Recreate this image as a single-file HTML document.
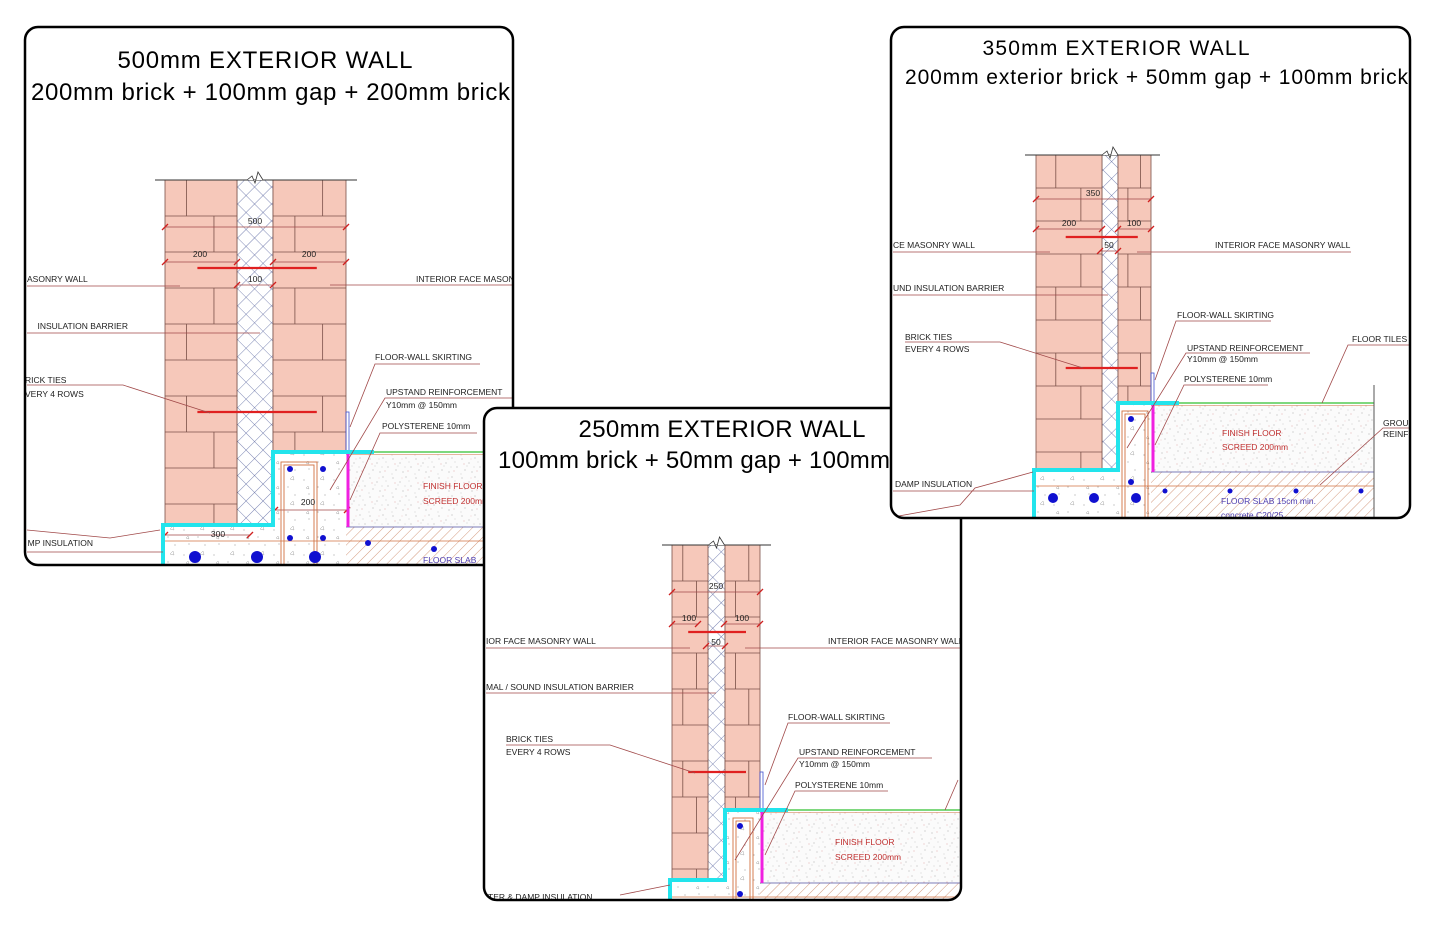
<!DOCTYPE html>
<html><head><meta charset="utf-8">
<style>
html,body{margin:0;padding:0;background:#fff;}
svg{display:block;font-family:"Liberation Sans",sans-serif;}
.l{font-size:8.5px;fill:#222;}
.ld{stroke:#a04848;stroke-width:0.8;fill:none;}
.t{fill:#000;}
</style></head><body>
<svg id="s" xmlns="http://www.w3.org/2000/svg" width="1445" height="934" viewBox="0 0 1445 934">
<defs>
<pattern id="xh" width="12" height="12" patternUnits="userSpaceOnUse" patternTransform="rotate(45)">
<rect width="12" height="12" fill="#fff"/>
<path d="M0 0H12M0 0V12" stroke="#5a66a0" stroke-width="0.8"/>
</pattern>
<pattern id="hat" width="7" height="7" patternUnits="userSpaceOnUse" patternTransform="rotate(45)">
<rect width="7" height="7" fill="#fff"/>
<path d="M0 0V7" stroke="#d09070" stroke-width="0.9"/>
</pattern>
<pattern id="spk" width="23" height="19" patternUnits="userSpaceOnUse">
<rect width="23" height="19" fill="#fbfbfb"/>
<g fill="#999"><circle cx="2" cy="3" r="0.5"/><circle cx="9" cy="7" r="0.5"/><circle cx="15" cy="2" r="0.5"/><circle cx="20" cy="11" r="0.5"/><circle cx="5" cy="14" r="0.5"/><circle cx="12" cy="16" r="0.5"/><circle cx="18" cy="6" r="0.4"/><circle cx="7" cy="10" r="0.4"/><circle cx="14" cy="11" r="0.4"/><circle cx="1" cy="18" r="0.4"/></g>
<g fill="#d99"><circle cx="4" cy="8" r="0.5"/><circle cx="17" cy="15" r="0.5"/><circle cx="11" cy="3" r="0.4"/></g>
</pattern>
<pattern id="con" width="30" height="25" patternUnits="userSpaceOnUse">
<rect width="30" height="25" fill="#fff"/>
<g fill="#aaa"><circle cx="4" cy="5" r="0.6"/><circle cx="18" cy="12" r="0.6"/><circle cx="25" cy="20" r="0.6"/><circle cx="9" cy="19" r="0.6"/></g>
<path d="M20 4l3 -3l1 4z M6 13l2 -2l1 3z" fill="none" stroke="#aaa" stroke-width="0.5"/>
</pattern>
<clipPath id="cA"><rect x="26" y="28" width="486" height="536" rx="12"/></clipPath>
<clipPath id="cB"><rect x="485" y="409" width="475" height="490" rx="12"/></clipPath>
<clipPath id="cC"><rect x="892" y="28" width="517" height="489" rx="12"/></clipPath>
</defs>

<!-- PANEL A -->
<g>
<rect x="25" y="27" width="488" height="538" rx="13" fill="#fff"/>
<g clip-path="url(#cA)">
<g id="dA"></g>
<text x="27" y="282" class="l" text-anchor="start">ASONRY WALL</text>
<path class="ld" d="M27 286H180"/>
<text x="416" y="282" class="l">INTERIOR FACE MASONRY WALL</text>
<path class="ld" d="M330 285H513"/>
<text x="128" y="329" class="l" text-anchor="end">INSULATION BARRIER</text>
<path class="ld" d="M27 333H260"/>
<text x="25" y="383" class="l">RICK TIES</text>
<text x="25" y="397" class="l">VERY 4 ROWS</text>
<path class="ld" d="M27 385H123L210 413"/>
<text x="375" y="360" class="l">FLOOR-WALL SKIRTING</text>
<path class="ld" d="M480 364H375L350 427"/>
<text x="386" y="395" class="l">UPSTAND REINFORCEMENT</text>
<text x="386" y="408" class="l">Y10mm @ 150mm</text>
<path class="ld" d="M513 398H385L330 490"/>
<text x="382" y="429" class="l">POLYSTERENE 10mm</text>
<path class="ld" d="M477 433H380L350 500"/>
<text x="423" y="489" class="l" style="fill:#c03030">FINISH FLOOR</text>
<text x="423" y="504" class="l" style="fill:#c03030">SCREED 200mm</text>
<text x="423" y="563" class="l" style="fill:#5040b0">FLOOR SLAB</text>
<text x="93" y="546" class="l" text-anchor="end">MP INSULATION</text>
<path class="ld" d="M27 530L110 538L160 530M27 552H163"/>
<text x="255" y="224" class="l" text-anchor="middle">500</text>
<text x="200" y="257" class="l" text-anchor="middle">200</text>
<text x="309" y="257" class="l" text-anchor="middle">200</text>
<text x="255" y="282" class="l" text-anchor="middle">100</text>
<text x="218" y="537" class="l" text-anchor="middle">300</text>
<text x="308" y="505" class="l" text-anchor="middle">200</text>
</g>
<text x="265" y="68" class="t" font-size="24" text-anchor="middle" textLength="295">500mm EXTERIOR WALL</text>
<text x="31" y="100" class="t" font-size="24" textLength="479">200mm brick + 100mm gap + 200mm brick</text>
<rect x="25" y="27" width="488" height="538" rx="13" fill="none" stroke="#000" stroke-width="2.5"/>
</g>

<!-- PANEL B -->
<g>
<rect x="484" y="408" width="477" height="492" rx="13" fill="#fff"/>
<g clip-path="url(#cB)">
<g id="dB"></g>
<text x="486" y="644" class="l">IOR FACE MASONRY WALL</text>
<path class="ld" d="M486 648H690"/>
<text x="828" y="644" class="l">INTERIOR FACE MASONRY WALL</text>
<path class="ld" d="M745 648H961"/>
<text x="486" y="690" class="l">MAL / SOUND INSULATION BARRIER</text>
<path class="ld" d="M486 693H716"/>
<text x="506" y="742" class="l">BRICK TIES</text>
<text x="506" y="755" class="l">EVERY 4 ROWS</text>
<path class="ld" d="M506 745H610L695 773"/>
<text x="788" y="720" class="l">FLOOR-WALL SKIRTING</text>
<path class="ld" d="M890 723H788L765 785"/>
<text x="799" y="755" class="l">UPSTAND REINFORCEMENT</text>
<text x="799" y="767" class="l">Y10mm @ 150mm</text>
<path class="ld" d="M932 758H798L735 860"/>
<text x="795" y="788" class="l">POLYSTERENE 10mm</text>
<path class="ld" d="M888 791H795L765 855"/>
<path class="ld" d="M958 780L945 810"/>
<text x="835" y="845" class="l" style="fill:#c03030">FINISH FLOOR</text>
<text x="835" y="860" class="l" style="fill:#c03030">SCREED 200mm</text>
<text x="488" y="900" class="l">TER &amp; DAMP INSULATION</text>
<path class="ld" d="M620 895L670 885"/>
<text x="716" y="589" class="l" text-anchor="middle">250</text>
<text x="689" y="621" class="l" text-anchor="middle">100</text>
<text x="742" y="621" class="l" text-anchor="middle">100</text>
<text x="716" y="645" class="l" text-anchor="middle">50</text>
</g>
<text x="722" y="437" class="t" font-size="24" text-anchor="middle" textLength="287">250mm EXTERIOR WALL</text>
<text x="498" y="468" class="t" font-size="24" textLength="392">100mm brick + 50mm gap + 100mm</text>
<rect x="484" y="408" width="477" height="492" rx="13" fill="none" stroke="#000" stroke-width="2.5"/>
</g>

<!-- PANEL C -->
<g>
<rect x="891" y="27" width="519" height="491" rx="13" fill="#fff"/>
<g clip-path="url(#cC)">
<g id="dC"></g>
<text x="893" y="248" class="l">CE MASONRY WALL</text>
<path class="ld" d="M893 252H1050"/>
<text x="1215" y="248" class="l">INTERIOR FACE MASONRY WALL</text>
<path class="ld" d="M1137 252H1351"/>
<text x="893" y="291" class="l">UND INSULATION BARRIER</text>
<path class="ld" d="M893 295H1108"/>
<text x="905" y="340" class="l">BRICK TIES</text>
<text x="905" y="352" class="l">EVERY 4 ROWS</text>
<path class="ld" d="M905 342H1000L1083 368"/>
<text x="1177" y="318" class="l">FLOOR-WALL SKIRTING</text>
<path class="ld" d="M1271 321H1176L1155 380"/>
<text x="1187" y="351" class="l">UPSTAND REINFORCEMENT</text>
<text x="1187" y="362" class="l">Y10mm @ 150mm</text>
<path class="ld" d="M1310 353H1186L1127 448"/>
<text x="1184" y="382" class="l">POLYSTERENE 10mm</text>
<path class="ld" d="M1268 385H1184L1155 445"/>
<text x="1352" y="342" class="l">FLOOR TILES</text>
<path class="ld" d="M1410 345H1348L1322 403"/>
<text x="1383" y="426" class="l">GROUND</text>
<text x="1383" y="437" class="l">REINF</text>
<path class="ld" d="M1410 428H1383L1320 485"/>
<text x="1222" y="436" class="l" style="fill:#c03030">FINISH FLOOR</text>
<text x="1222" y="450" class="l" style="fill:#c03030">SCREED 200mm</text>
<text x="1221" y="504" class="l" style="fill:#5040b0">FLOOR SLAB 15cm min.</text>
<text x="1221" y="518" class="l" style="fill:#5040b0">concrete C20/25</text>
<text x="895" y="487" class="l">DAMP INSULATION</text>
<path class="ld" d="M893 517L960 505L975 488L1033 472M893 491H1034"/>
<text x="1093" y="196" class="l" text-anchor="middle">350</text>
<text x="1069" y="226" class="l" text-anchor="middle">200</text>
<text x="1134" y="226" class="l" text-anchor="middle">100</text>
<text x="1109" y="248" class="l" text-anchor="middle">50</text>
</g>
<text x="1116" y="55" class="t" font-size="21" text-anchor="middle" textLength="267">350mm EXTERIOR WALL</text>
<text x="905" y="84" class="t" font-size="21" textLength="503">200mm exterior brick + 50mm gap + 100mm brick</text>
<rect x="891" y="27" width="519" height="491" rx="13" fill="none" stroke="#000" stroke-width="2.5"/>
</g>
</svg>
<script>
var NS="http://www.w3.org/2000/svg";
function el(g,t,a){var e=document.createElementNS(NS,t);for(var k in a)e.setAttribute(k,a[k]);g.appendChild(e);return e;}
function panel(id,p){
 var g=document.getElementById(id);
 var o0=p.o[0],o1=p.o[1],c0=p.c[0],c1=p.c[1],i0=p.i[0],i1=p.i[1];
 // concrete footing
 el(g,'rect',{x:o0-2,y:p.ob,width:(p.fr-o0),height:p.bot-p.ob+10,fill:'url(#con)'});
 el(g,'rect',{x:c1,y:p.ib,width:i1-c1+2,height:p.ob-p.ib,fill:'url(#con)'});
 // screed
 el(g,'rect',{x:i1+2,y:p.ib+2,width:p.fr-i1-2,height:p.st-p.ib-2,fill:'url(#spk)'});
 // slab hatch
 el(g,'rect',{x:i1,y:p.st,width:p.fr-i1,height:p.bot-p.st+10,fill:'url(#hat)'});
 el(g,'line',{x1:i1,y1:p.st,x2:p.fr,y2:p.st,stroke:'#5050a0','stroke-width':0.8});
 el(g,'line',{x1:o0,y1:p.st+14,x2:p.fr,y2:p.st+14,stroke:'#d07040','stroke-width':0.8});
 // cavity
 el(g,'rect',{x:c0,y:p.top,width:c1-c0,height:p.ob-p.top,fill:'url(#xh)',stroke:'#556','stroke-width':0.6});
 // leaves
 [[o0,o1,p.ob],[i0,i1,p.ib]].forEach(function(L,li){
  el(g,'rect',{x:L[0],y:p.top,width:L[1]-L[0],height:L[2]-p.top,fill:'#f6c8ba',stroke:'#7a5048','stroke-width':0.8});
  var w=L[1]-L[0],r=0;
  for(var y=p.top;y<L[2];y+=p.rh,r++){
   if(y>p.top) el(g,'line',{x1:L[0],y1:y,x2:L[1],y2:y,stroke:'#7a5048','stroke-width':0.8});
   var jx=(r+li)%2? L[0]+w*0.68 : L[0]+w*0.3;
   if(r%3!=2) el(g,'line',{x1:jx,y1:y,x2:jx,y2:Math.min(y+p.rh,L[2]),stroke:'#7a5048','stroke-width':0.8});
  }
 });
 // top line and break
 el(g,'line',{x1:p.tl[0],y1:p.top,x2:p.tl[1],y2:p.top,stroke:'#333','stroke-width':1});
 var cx=(c0+c1)/2;
 el(g,'path',{d:'M'+(cx-8)+' '+p.top+'L'+(cx-3)+' '+(p.top-4)+'L'+cx+' '+(p.top+3)+'L'+(cx+3)+' '+(p.top-8)+'L'+(cx+8)+' '+p.top,fill:'#fff',stroke:'#333','stroke-width':0.8});
 // ties
 p.ties.forEach(function(y){el(g,'line',{x1:o0+(o1-o0)*0.45,y1:y,x2:i1-(i1-i0)*0.4,y2:y,stroke:'#e02020','stroke-width':2.2});});
 // dim lines
 p.dims.forEach(function(d){el(g,'line',{x1:d[0],y1:d[2],x2:d[1],y2:d[2],stroke:'#a04848','stroke-width':0.7});
  [d[0],d[1]].forEach(function(x){el(g,'line',{x1:x-3,y1:d[2]+3,x2:x+3,y2:d[2]-3,stroke:'#d02020','stroke-width':1.3});});});
 // rebar in upstand
 el(g,'rect',{x:c1+p.rb[0],y:p.ib+p.rb[1],width:p.rb[2],height:p.bot-p.ib,fill:'none',stroke:'#d07040','stroke-width':0.9});
 el(g,'rect',{x:c1+p.rb[0]+3,y:p.ib+p.rb[1]+3,width:p.rb[2]-6,height:p.bot-p.ib,fill:'none',stroke:'#d07040','stroke-width':0.9});
 p.dots.forEach(function(d){el(g,'circle',{cx:d[0],cy:d[1],r:d[2],fill:'#1010d0'});});
 // tiles line
 el(g,'line',{x1:i1,y1:p.ib,x2:p.fr,y2:p.ib,stroke:'#30c030','stroke-width':1.2});
 el(g,'line',{x1:i1,y1:p.ib+2.5,x2:p.fr,y2:p.ib+2.5,stroke:'#d07040','stroke-width':0.6});
 // skirting
 el(g,'rect',{x:i1,y:p.ib-p.sk,width:3,height:p.sk,fill:'none',stroke:'#4050d0','stroke-width':0.8});
 // cyan
 el(g,'path',{d:'M'+(o0-2)+' '+(p.bot+10)+'V'+p.ob+'H'+c1+'V'+p.ib+'H'+(i1+28),fill:'none',stroke:'#22e4ec','stroke-width':4});
 // magenta
 el(g,'line',{x1:i1+2,y1:p.ib+2,x2:i1+2,y2:p.st,stroke:'#f020e0','stroke-width':3});
 if(p.vr) el(g,'line',{x1:p.fr,y1:p.vr,x2:p.fr,y2:p.bot,stroke:'#555','stroke-width':1});
}
panel('dA',{o:[165,237],c:[237,273],i:[273,346],top:180,tl:[155,357],ob:525,ib:452,rh:36,fr:515,bot:565,st:527,
 ties:[268,412],dims:[[165,346,227],[165,237,262],[273,346,262],[237,273,285],[165,250,535],[275,347,510]],
 rb:[8,10,36],sk:40,dots:[[290,469,3],[323,469,3],[290,538,3],[323,538,3],[195,557,6],[257,557,6],[315,557,6],[368,543,3],[434,549,3]]});
panel('dB',{o:[672,708],c:[708,725],i:[725,760],top:545,tl:[662,771],ob:880,ib:810,rh:36,fr:960,bot:900,st:883,
 ties:[632,772],dims:[[672,760,592],[672,698,624],[724,760,624],[706,725,646]],
 rb:[8,8,20],sk:38,dots:[[740,826,3],[740,894,3]],vr:null});
panel('dC',{o:[1036,1102],c:[1102,1118],i:[1118,1151],top:155,tl:[1025,1160],ob:470,ib:403,rh:33,fr:1374,bot:520,st:472,
 ties:[237,368],dims:[[1036,1151,199],[1036,1102,229],[1118,1151,229],[1100,1118,251]],
 rb:[4,8,26],sk:30,dots:[[1131,419,3],[1131,482,3],[1053,498,5],[1094,498,5],[1136,498,5],[1165,491,2.5],[1230,491,2.5],[1296,491,2.5],[1361,491,2.5]],vr:385});
</script>
</body></html>
